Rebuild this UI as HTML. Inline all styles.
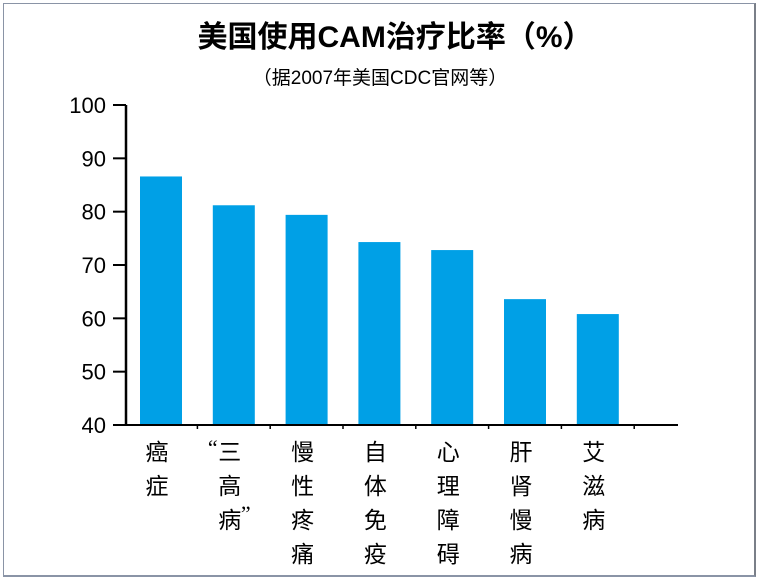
<!DOCTYPE html>
<html><head><meta charset="utf-8">
<style>
html,body{margin:0;padding:0;background:#fff;}
body{width:763px;height:583px;overflow:hidden;position:relative;font-family:"Liberation Sans","Noto Sans CJK SC",sans-serif;}
#frame{position:absolute;left:3px;top:3px;width:753px;height:574px;border:1px solid #8a94a6;border-right:2px solid #7a7f88;border-bottom:2px solid #8a94a6;box-sizing:border-box;}
</style></head>
<body>
<div id="frame"></div>
<svg id="chart" width="763" height="583" style="position:absolute;left:0;top:0">
<text x="395" y="47" text-anchor="middle" font-size="30" font-weight="bold" font-family="'Liberation Sans','Noto Sans CJK SC',sans-serif">美国使用CAM治疗比率（%）</text>
<text x="380" y="84" text-anchor="middle" font-size="19" font-family="'Liberation Sans','Noto Sans CJK SC',sans-serif">（据2007年美国CDC官网等）</text>
<g id="bars"></g><g id="axes"></g><g id="labels"></g>
</svg>
<script>
const categories=["癌症","“三高”病","慢性疼痛","自体免疫","心理障碍","肝肾慢病","艾滋病"];
const values=[86.6,81.2,79.4,74.3,72.8,63.6,60.8];
const yTicks=[40,50,60,70,80,90,100];
const labelChars=[["癌","症"],["三","高","病"],["慢","性","疼","痛"],["自","体","免","疫"],["心","理","障","碍"],["肝","肾","慢","病"],["艾","滋","病"]];
const NS="http://www.w3.org/2000/svg";
const x0=126,x1=678,yTop=105,yBot=425,vMin=40,vMax=100;
const y=v=>yBot-(v-vMin)/(vMax-vMin)*(yBot-yTop);
const step=72.8,firstC=161,bw=42;
const xc=i=>firstC+i*step;
function mk(t,a,p){const e=document.createElementNS(NS,t);for(const k in a)e.setAttribute(k,a[k]);p.appendChild(e);return e;}
const gb=document.getElementById('bars'),ga=document.getElementById('axes'),gl=document.getElementById('labels');
values.forEach((v,i)=>{
  const r=mk('rect',{x:xc(i)-bw/2,y:y(v),width:bw,height:yBot-y(v),fill:'#00a0e6'},gb);
  
  
});
let l=mk('line',{x1:x0,y1:yTop,x2:x0,y2:yBot,stroke:'#000','stroke-width':2.5},ga);


l=mk('line',{x1:x0,y1:yBot,x2:x1,y2:yBot,stroke:'#000','stroke-width':2},ga);


yTicks.forEach(t=>{
  mk('line',{x1:x0-13,y1:y(t),x2:x0,y2:y(t),stroke:'#000','stroke-width':2},ga);
  const tx=mk('text',{x:x0-20,y:y(t)+8,'text-anchor':'end','font-size':22,'font-family':"'Liberation Sans',sans-serif"},ga);
  tx.textContent=t;
  
  
});
for(let i=0;i<categories.length;i++){
  mk('line',{x1:xc(i)+step/2,y1:yBot,x2:xc(i)+step/2,y2:yBot+4,stroke:'#000','stroke-width':1.5},ga);
}
labelChars.forEach((cs,i)=>{
  const g=mk('g',{},gl);
  
  
  const tt=mk('title',{},g);tt.textContent=categories[i];
  const cx=xc(i)-4;
  cs.forEach((c,j)=>{
    const t=mk('text',{x:cx,y:460+j*34,'text-anchor':'middle','font-size':23,'font-family':"'Liberation Sans','Noto Sans CJK SC',sans-serif"},g);
    t.textContent=c;
  });
  if(i===1){
    const q1=mk('text',{x:cx-17,y:455,'text-anchor':'middle','font-size':22,'font-family':"'Liberation Serif',serif"},g);q1.textContent='“';
    const q2=mk('text',{x:cx+16,y:521,'text-anchor':'middle','font-size':22,'font-family':"'Liberation Serif',serif"},g);q2.textContent='”';
  }
});
</script>
</body></html>
